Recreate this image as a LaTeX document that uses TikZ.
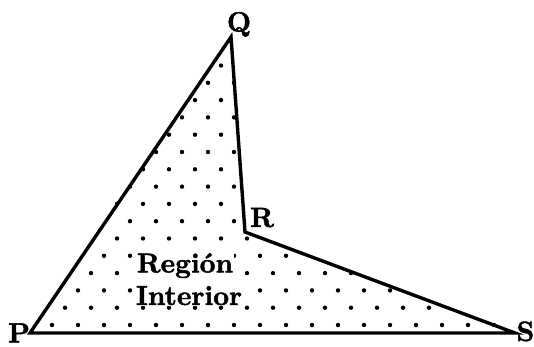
\documentclass[tikz,border=0pt]{standalone}
\usepackage{fontspec}
\newfontfamily\lblfont{lmroman10-bold.otf}[FakeBold=1.6]
\begin{document}
\begin{tikzpicture}[x=1pt,y=-1pt,
  edge/.style={line width=3.4pt, line join=miter},
  dotmark/.style={fill=black},
  vlabel/.style={font=\fontsize{28}{30}\lblfont, inner sep=0pt, anchor=base},
  rlabel/.style={font=\fontsize{27.5}{30}\lblfont, inner sep=0.6pt, anchor=base, fill=white}]
\useasboundingbox (0,0) rectangle (534,347);
\fill[white] (0,0) rectangle (534,347);
\coordinate (P) at (30,333);
\coordinate (Q) at (231,37);
\coordinate (R) at (245,232);
\coordinate (S) at (515,333);
% dots
\foreach \i in {0,...,16}{
  \foreach \k in {0,...,20}{
    \pgfmathsetmacro\yy{325-17.3*\i}
    \pgfmathsetmacro\xx{26*\k + 13*mod(\i,2)}
    \pgfmathsetmacro\dpq{0.5618*(\yy-333)+0.8273*(\xx-30)}
    \pgfmathsetmacro\dsp{333-\yy}
    \pgfmathsetmacro\dqr{0.0716*(\yy-37)-0.9974*(\xx-231)}
    \pgfmathsetmacro\drs{0.9365*(\yy-232)-0.3503*(\xx-245)}
    \pgfmathsetmacro\ok{and(and(\dpq>=-1,\dsp>=-1),or(\dqr>=-1,\drs>=-1))}
    \ifdim\ok pt>0.5pt \fill[dotmark] (\xx,\yy) circle (2.2pt); \fi
  }
}
\draw[edge] (P) -- (Q) -- (R) -- (S) -- cycle;
\node[rlabel] (t1) at (185,272.5) {Región};
\node[rlabel] (t2) at (189,305) {Interior};
\node[vlabel] (lq) at (239,31.5) {Q};
\node[vlabel] (lr) at (262,227) {R};
\node[vlabel] (lp) at (19,342.5) {P};
\node[vlabel] (ls) at (525.5,341) {S};
\end{tikzpicture}
\end{document}
